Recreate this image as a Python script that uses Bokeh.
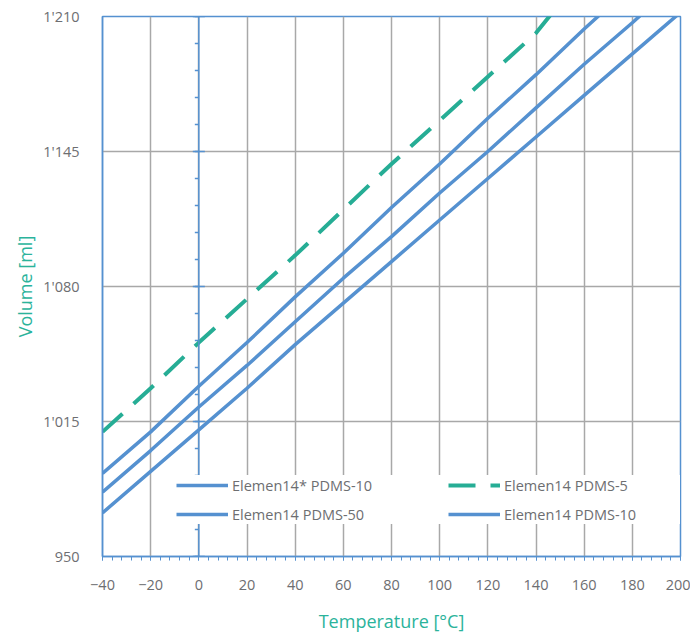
from math import pi
from bokeh.plotting import figure
from bokeh.models import Range1d, FixedTicker, Span, Legend, LegendItem
from bokeh.embed import file_html
from bokeh.resources import INLINE

# ---- data ----
temps = [-40, -20, 0, 20, 40, 60, 80, 100, 120, 140, 160, 180, 200]
star_pdms10 = [990, 1010, 1032, 1053, 1075, 1096, 1118, 1139, 1161, 1182, 1204, 1225, 1246]
pdms50 = [981, 1001, 1022, 1042, 1063, 1084, 1104, 1125, 1145, 1166, 1187, 1207, 1228]
pdms10 = [971, 991, 1011, 1031, 1052, 1072, 1092, 1112, 1132, 1152, 1172, 1192, 1212]
temps_pdms5 = [-40, -20, 0, 20, 40, 60, 80, 100, 120, 140, 160]
pdms5 = [1010, 1031, 1053, 1074, 1095, 1117, 1139, 1160, 1181, 1202, 1231]

x_ticks = [-40, -20, 0, 20, 40, 60, 80, 100, 120, 140, 160, 180, 200]
y_ticks = [950, 1015, 1080, 1145, 1210]
y_tick_labels = ["950", "1'015", "1'080", "1'145", "1'210"]
x_minor = list(range(-40, 201, 4))
y_minor = list(range(950, 1211, 13))

labels = ["Elemen14* PDMS-10", "Elemen14 PDMS-50", "Elemen14 PDMS-5", "Elemen14 PDMS-10"]

BLUE = "#5591d0"
GREEN = "#26ad95"
TEAL = "#2bb39b"
GRAY_TXT = "#6d6e71"
GRID = "#a8a8a8"
FONT = "Open Sans"

p = figure(width=690, height=636, x_range=Range1d(-40, 200), y_range=Range1d(950, 1210),
           output_backend="svg", toolbar_location=None,
           min_border_left=102, min_border_right=10, min_border_top=16, min_border_bottom=80)

p.background_fill_color = "white"
p.border_fill_color = "white"
p.outline_line_color = BLUE
p.outline_line_width = 1.5

# grid
p.xgrid.ticker = FixedTicker(ticks=x_ticks)
p.ygrid.ticker = FixedTicker(ticks=y_ticks)
p.xgrid.grid_line_color = GRID
p.ygrid.grid_line_color = GRID
p.xgrid.grid_line_width = 1.5
p.ygrid.grid_line_width = 1.5

# x axis
xa = p.xaxis[0]
xa.ticker = FixedTicker(ticks=x_ticks, minor_ticks=x_minor)
xa.axis_line_color = BLUE
xa.axis_line_width = 1.5
xa.major_tick_line_color = BLUE
xa.minor_tick_line_color = BLUE
xa.major_tick_in = 0
xa.major_tick_out = 4
xa.minor_tick_in = 0
xa.minor_tick_out = 4
xa.major_label_standoff = 19
xa.major_label_text_font = FONT
xa.major_label_text_font_size = "14.5px"
xa.major_label_text_color = GRAY_TXT
xa.axis_label = "Temperature [°C]"
xa.axis_label_text_font = FONT
xa.axis_label_text_font_size = "18px"
xa.axis_label_text_font_style = "normal"
xa.axis_label_text_color = TEAL
xa.axis_label_standoff = 16

# y axis
ya = p.yaxis[0]
ya.ticker = FixedTicker(ticks=y_ticks)
ya.major_label_overrides = {t: l for t, l in zip(y_ticks, y_tick_labels)}
ya.axis_line_color = BLUE
ya.axis_line_width = 1.5
ya.major_tick_line_color = None
ya.minor_tick_line_color = None
ya.major_tick_in = 0
ya.major_tick_out = 0
ya.minor_tick_in = 0
ya.minor_tick_out = 0
ya.major_label_standoff = 23
ya.major_label_text_font = FONT
ya.major_label_text_font_size = "14.5px"
ya.major_label_text_color = GRAY_TXT
ya.axis_label = "Volume [ml]"
ya.axis_label_text_font = FONT
ya.axis_label_text_font_size = "18px"
ya.axis_label_text_font_style = "normal"
ya.axis_label_text_color = TEAL
ya.axis_label_standoff = 3

# vertical axis line at 0 with its ticks
p.add_layout(Span(location=0, dimension="height", line_color=BLUE, line_width=1.5))
p.ray(x=0, y=y_minor, length=4, angle=pi, length_units="screen", line_color=BLUE, line_width=1.5)
p.scatter(x=0, y=y_ticks, marker="dash", size=12, line_color=BLUE, line_width=1.5)

# series
rA = p.line(temps, star_pdms10, line_color=BLUE, line_width=3.5)
rB = p.line(temps, pdms50, line_color=BLUE, line_width=3.5)
rC = p.line(temps, pdms10, line_color=BLUE, line_width=3.5)
rG = p.line(temps_pdms5, pdms5, line_color=GREEN, line_width=4, line_dash="27 15")

legend = Legend(items=[LegendItem(label=labels[0], renderers=[rA]),
                       LegendItem(label=labels[1], renderers=[rB]),
                       LegendItem(label=labels[2], renderers=[rG]),
                       LegendItem(label=labels[3], renderers=[rC])],
                location=(74, 32), ncols=2, orientation="vertical",
                background_fill_color="white", background_fill_alpha=1.0,
                border_line_color=None, padding=8, spacing=9, margin=0,
                glyph_width=52, glyph_height=20, label_height=20, label_width=207,
                label_standoff=4, label_text_font=FONT, label_text_font_size="14.5px",
                label_text_color=GRAY_TXT)
p.add_layout(legend)

open("out.html", "w").write(file_html(p, INLINE))
